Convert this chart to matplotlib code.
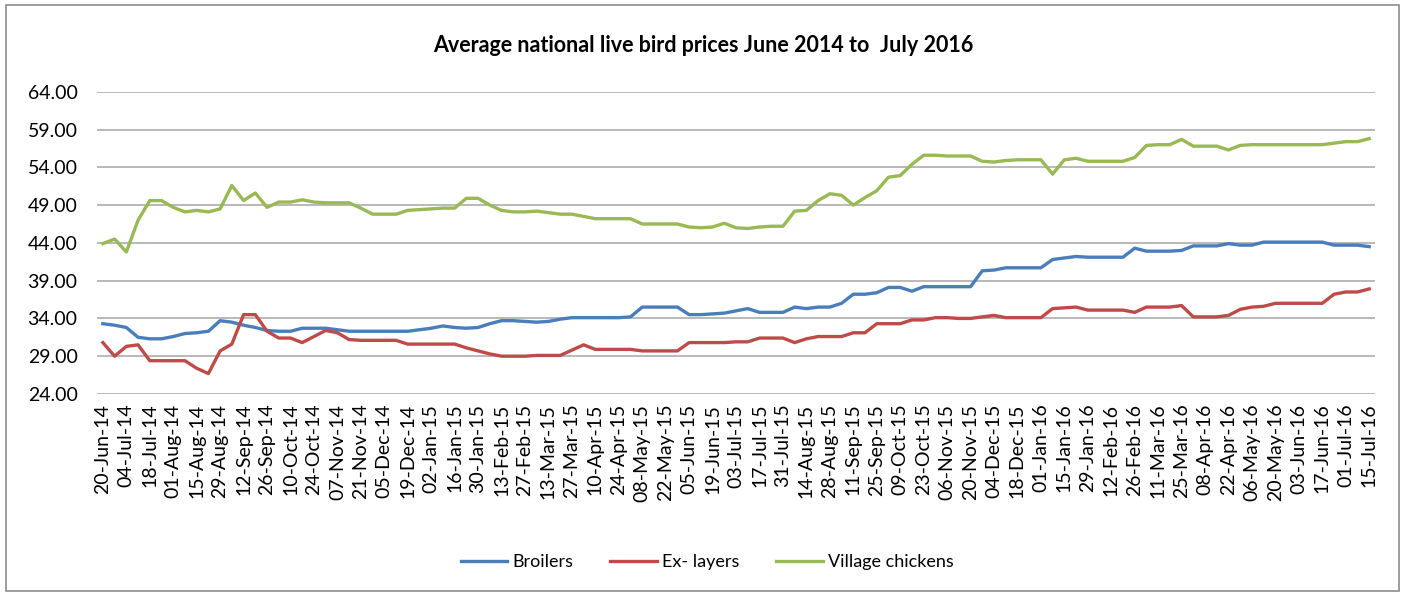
import matplotlib
matplotlib.use("Agg")
import matplotlib.pyplot as plt
import numpy as np
import pandas as pd
from matplotlib.patches import Rectangle

# ============================================================
# Data: weekly average live bird prices
# ============================================================

weeks = pd.date_range("2014-06-20", periods=109, freq="7D")
week_labels = [d.strftime("%d-%b-%y") for d in weeks]

broilers = [
    33.3, 33.1, 32.8, 31.5, 31.3, 31.3, 31.6, 32.0, 32.1, 32.3, 33.7, 33.5, 33.1, 32.8, 32.4, 32.3, 32.3, 32.7, 32.7,
    32.7, 32.5, 32.3, 32.3, 32.3, 32.3, 32.3, 32.3, 32.5, 32.7, 33.0, 32.8, 32.7, 32.8, 33.3, 33.7, 33.7, 33.6,
    33.5, 33.6, 33.9, 34.1, 34.1, 34.1, 34.1, 34.1, 34.2, 35.5, 35.5, 35.5, 35.5, 34.5, 34.5, 34.6, 34.7, 35.0,
    35.3, 34.8, 34.8, 34.8, 35.5, 35.3, 35.5, 35.5, 36.0, 37.2, 37.2, 37.4, 38.1, 38.1, 37.6, 38.2, 38.2, 38.2,
    38.2, 38.2, 40.3, 40.4, 40.7, 40.7, 40.7, 40.7, 41.8, 42.0, 42.2, 42.1, 42.1, 42.1, 42.1, 43.3, 42.9, 42.9,
    42.9, 43.0, 43.6, 43.6, 43.6, 43.9, 43.7, 43.7, 44.1, 44.1, 44.1, 44.1, 44.1, 44.1, 43.7, 43.7, 43.7, 43.5,
]

ex_layers = [
    30.8, 29.0, 30.3, 30.5, 28.4, 28.4, 28.4, 28.4, 27.4, 26.7, 29.7, 30.6, 34.5, 34.5, 32.3, 31.4, 31.4, 30.8, 31.6,
    32.4, 32.1, 31.2, 31.1, 31.1, 31.1, 31.1, 30.6, 30.6, 30.6, 30.6, 30.6, 30.1, 29.7, 29.3, 29.0, 29.0, 29.0,
    29.1, 29.1, 29.1, 29.8, 30.5, 29.9, 29.9, 29.9, 29.9, 29.7, 29.7, 29.7, 29.7, 30.8, 30.8, 30.8, 30.8, 30.9,
    30.9, 31.4, 31.4, 31.4, 30.8, 31.3, 31.6, 31.6, 31.6, 32.1, 32.1, 33.3, 33.3, 33.3, 33.8, 33.8, 34.1, 34.1,
    34.0, 34.0, 34.2, 34.4, 34.1, 34.1, 34.1, 34.1, 35.3, 35.4, 35.5, 35.1, 35.1, 35.1, 35.1, 34.8, 35.5, 35.5,
    35.5, 35.7, 34.2, 34.2, 34.2, 34.4, 35.2, 35.5, 35.6, 36.0, 36.0, 36.0, 36.0, 36.0, 37.2, 37.5, 37.5, 37.9,
]

village_chickens = [
    43.9, 44.5, 42.8, 47.0, 49.6, 49.6, 48.7, 48.1, 48.3, 48.1, 48.5, 51.6, 49.6, 50.6, 48.7, 49.4, 49.4, 49.7, 49.4,
    49.3, 49.3, 49.3, 48.6, 47.8, 47.8, 47.8, 48.3, 48.4, 48.5, 48.6, 48.6, 49.9, 49.9, 49.0, 48.3, 48.1, 48.1,
    48.2, 48.0, 47.8, 47.8, 47.5, 47.2, 47.2, 47.2, 47.2, 46.5, 46.5, 46.5, 46.5, 46.1, 46.0, 46.1, 46.6, 46.0,
    45.9, 46.1, 46.2, 46.2, 48.2, 48.3, 49.6, 50.5, 50.3, 49.0, 50.0, 50.9, 52.7, 52.9, 54.4, 55.6, 55.6, 55.5,
    55.5, 55.5, 54.8, 54.7, 54.9, 55.0, 55.0, 55.0, 53.1, 55.0, 55.2, 54.8, 54.8, 54.8, 54.8, 55.3, 56.9, 57.0,
    57.0, 57.7, 56.8, 56.8, 56.8, 56.3, 56.9, 57.0, 57.0, 57.0, 57.0, 57.0, 57.0, 57.0, 57.2, 57.4, 57.4, 57.8,
]

y_ticks = [24, 29, 34, 39, 44, 49, 54, 59, 64]

# ============================================================
# Plot
# ============================================================

plt.rcParams["font.family"] = ["Lato", "DejaVu Sans"]

fig = plt.figure(figsize=(14.06, 5.96), dpi=100)
ax = fig.add_axes([0.069, 0.339, 0.909, 0.507])

x = np.arange(len(weeks))
ax.plot(x, broilers, color="#4A7EBB", lw=2.4, label="Broilers", solid_joinstyle="round")
ax.plot(x, ex_layers, color="#BE4B48", lw=2.4, label="Ex- layers", solid_joinstyle="round")
ax.plot(x, village_chickens, color="#98B954", lw=2.4, label="Village chickens", solid_joinstyle="round")

ax.set_xlim(-0.5, len(weeks) - 0.5)
ax.set_ylim(24, 64)
ax.set_yticks(y_ticks)
ax.set_yticklabels([f"{v:.2f}" for v in y_ticks], fontsize=14)
ax.set_xticks(x[::2])
ax.set_xticklabels(week_labels[::2], rotation=90, fontsize=14)
ax.tick_params(axis="y", length=0, pad=14)
ax.tick_params(axis="x", length=0, pad=7)

ax.grid(axis="y", color="#a6a6a6", lw=1.1)
ax.set_axisbelow(True)
for s in ax.spines.values():
    s.set_visible(False)

fig.text(0.5, 0.923, "Average national live bird prices June 2014 to  July 2016",
         ha="center", va="center", fontsize=15.5, fontweight="bold")

fig.legend(loc="center", bbox_to_anchor=(0.503, 0.057), ncol=3, frameon=False,
           fontsize=13, handlelength=2.6, handletextpad=0.3, columnspacing=2.0)

fig.patches.append(Rectangle((0.004, 0.008), 0.991, 0.984, transform=fig.transFigure,
                             fill=False, edgecolor="#8c8c8c", lw=1.2))

fig.savefig("out.png", dpi=100)
